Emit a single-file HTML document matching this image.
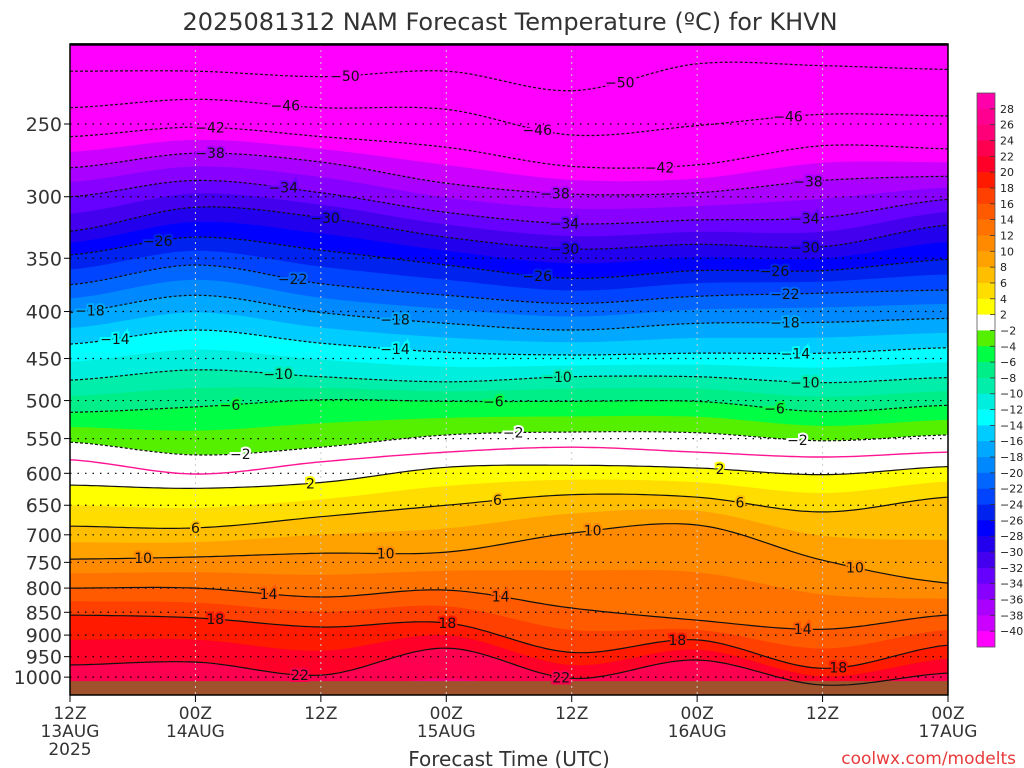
<!DOCTYPE html>
<html><head><meta charset="utf-8"><title>NAM Forecast Temperature KHVN</title>
<style>
html,body{margin:0;padding:0;background:#fff;}
svg{display:block;font-family:"DejaVu Sans","Liberation Sans",sans-serif;}
</style></head>
<body>
<svg id="chart" width="1024" height="768" viewBox="0 0 1024 768" xmlns="http://www.w3.org/2000/svg">
<defs><clipPath id="plotclip"><rect x="70" y="44" width="878" height="651"/></clipPath></defs>
<text x="510" y="30" text-anchor="middle" font-size="24" fill="#333">2025081312 NAM Forecast Temperature (ºC) for KHVN</text>
<g id="fills" clip-path="url(#plotclip)"></g>
<g id="grid"></g>
<g id="lines" clip-path="url(#plotclip)"></g>
<g id="labels"></g>
<g id="axes"></g>
<g id="cbar"></g>
<text x="509" y="766" text-anchor="middle" font-size="20" fill="#333">Forecast Time (UTC)</text>
<text x="1016" y="764" text-anchor="end" font-size="17" fill="#e83a3a">coolwx.com/modelts</text>
</svg>
<script>
// forecast hours of each sampled column
const hours = [0, 12, 24, 36, 48, 60, 72, 84];
// isotherm pressure (hPa) at each forecast hour
const p_m54 = [202, 204, 205, 204, 208, 200, 197, 197];
const p_m50 = [219, 219, 222, 219, 230, 215, 216, 218];
const p_m46 = [240, 235, 240, 241, 257, 251, 244, 245];
const p_m42 = [258, 252, 258, 265, 278, 277, 264, 266];
const p_m38 = [279, 269, 275, 290, 298, 297, 288, 285];
const p_m34 = [300, 288, 297, 312, 321, 318, 316, 302];
const p_m30 = [327, 308, 316, 332, 342, 338, 340, 322];
const p_m26 = [347, 332, 343, 356, 368, 361, 361, 351];
const p_m22 = [374, 356, 373, 384, 392, 385, 382, 379];
const p_m18 = [401, 384, 401, 412, 419, 412, 411, 407];
const p_m14 = [434, 419, 433, 443, 446, 444, 444, 438];
const p_m10 = [475, 463, 471, 477, 471, 471, 478, 472];
const p_m6  = [515, 508, 499, 501, 501, 501, 514, 506];
const p_m2  = [555, 573, 562, 545, 541, 542, 553, 545];
const p_0   = [580, 601, 583, 569, 562, 569, 576, 569];
const p_2   = [618, 623, 614, 591, 588, 592, 602, 590];
const p_6   = [685, 688, 669, 650, 633, 637, 661, 637];
const p_10  = [744, 740, 733, 731, 697, 683, 746, 790];
const p_14  = [800, 800, 818, 804, 841, 867, 887, 856];
const p_18  = [856, 862, 882, 873, 940, 911, 978, 923];
const p_22  = [970, 963, 995, 930, 1003, 958, 1020, 990];
const p_26  = [1085, 1085, 1085, 1085, 1085, 1085, 1085, 1085];
const isoTemps = [-54, -50, -46, -42, -38, -34, -30, -26, -22, -18, -14, -10, -6, -2, 0, 2, 6, 10, 14, 18, 22, 26];
const isoPress = [p_m54, p_m50, p_m46, p_m42, p_m38, p_m34, p_m30, p_m26, p_m22, p_m18, p_m14, p_m10, p_m6, p_m2, p_0, p_2, p_6, p_10, p_14, p_18, p_22, p_26];
const pressureTicks = [250, 300, 350, 400, 450, 500, 550, 600, 650, 700, 750, 800, 850, 900, 950, 1000];
const timeTicks = [0, 12, 24, 36, 48, 60, 72, 84];
const timeLab1 = ["12Z", "00Z", "12Z", "00Z", "12Z", "00Z", "12Z", "00Z"];
const timeLab2 = ["13AUG", "14AUG", "", "15AUG", "", "16AUG", "", "17AUG"];
const surfaceP = 1010;
const cbarLabels = [28, 26, 24, 22, 20, 18, 16, 14, 12, 10, 8, 6, 4, 2, -2, -4, -6, -8, -10, -12, -14, -16, -18, -20, -22, -24, -26, -28, -30, -32, -34, -36, -38, -40];

const NS = "http://www.w3.org/2000/svg";
const X0 = 70, X1 = 948;
function xS(h) { return X0 + h * (X1 - X0) / 84; }
function yS(p) { return 124 + 399 * Math.log(p / 250); }

const colorMap = {28:'#ff00aa',26:'#ff0090',24:'#ff0078',22:'#ff0050',20:'#ff0028',18:'#ff1a00',16:'#ff4000',14:'#ff5a00',12:'#ff7200',10:'#ff8a00',8:'#ffa200',6:'#ffbf00',4:'#ffdd00',2:'#ffff00',0:'#ffffff',
 '-2':'#ffffff','-4':'#55f000','-6':'#00ff44','-8':'#00ee88','-10':'#00eeaa','-12':'#00eedd','-14':'#00ffff','-16':'#00ccff','-18':'#00a8ff','-20':'#0088ff','-22':'#0066ff','-24':'#0044ff','-26':'#0022ee','-28':'#0000ff','-30':'#2200ee','-32':'#4400ee','-34':'#6600ff','-36':'#8800ff','-38':'#aa00ff','-40':'#cc00ff'};
function colorFor(t) { if (t < -40) return '#ff00ff'; if (t >= 28) return '#ff00aa'; return colorMap[t]; }

// Catmull-Rom interpolation of log-pressure in time
function isoLogP(i, h) {
  const arr = isoPress[i].map(Math.log);
  const n = hours.length;
  let k = 0;
  while (k < n - 2 && h > hours[k + 1]) k++;
  const f = (h - hours[k]) / (hours[k + 1] - hours[k]);
  const p0 = arr[Math.max(k - 1, 0)], p1 = arr[k], p2 = arr[k + 1], p3 = arr[Math.min(k + 2, n - 1)];
  const m1 = (p2 - p0) / 2, m2 = (p3 - p1) / 2;
  const f2 = f * f, f3 = f2 * f;
  return (2*f3 - 3*f2 + 1) * p1 + (f3 - 2*f2 + f) * m1 + (-2*f3 + 3*f2) * p2 + (f3 - f2) * m2;
}
function yOfT(T, h) {
  let i = 0;
  while (i < isoTemps.length - 2 && T > isoTemps[i + 1]) i++;
  const f = (T - isoTemps[i]) / (isoTemps[i + 1] - isoTemps[i]);
  const lp = isoLogP(i, h) * (1 - f) + isoLogP(i + 1, h) * f;
  return yS(Math.exp(lp));
}
function mk(tag, attrs, parent) {
  const e = document.createElementNS(NS, tag);
  for (const k in attrs) e.setAttribute(k, attrs[k]);
  parent.appendChild(e); return e;
}
const sampH = []; for (let h = 0; h <= 84.0001; h += 0.5) sampH.push(h);

// fills
const gF = document.getElementById('fills');
const bg = mk('rect', {x: 70, y: 44, width: 878, height: 651, fill: '#ff00ff'}, gF);


for (let T = -54; T <= 26; T += 2) {
  const top = sampH.map(h => [xS(h), yOfT(T, h)]);
  const bot = T + 2 <= 26 ? sampH.map(h => [xS(h), yOfT(T + 2, h)]) : sampH.map(h => [xS(h), 700]);
  const pts = top.concat(bot.reverse()).map(p => p[0].toFixed(1) + ',' + p[1].toFixed(1)).join(' ');
  const c = T >= 26 ? colorFor(26) : colorFor(T);
  const poly = mk('polygon', {points: pts, fill: c, stroke: c, 'stroke-width': 0.6}, gF);
  
  
}
const ground = mk('rect', {x: 70, y: yS(surfaceP), width: 878, height: 700 - yS(surfaceP), fill: '#a0522d'}, gF);



// grid
const gG = document.getElementById('grid');
pressureTicks.forEach(p => {
  const l = mk('line', {x1: 70, x2: 948, y1: yS(p), y2: yS(p), stroke: '#000', 'stroke-width': 1.2, 'stroke-dasharray': '1.5,6'}, gG);
  
  
});
timeTicks.slice(1, -1).forEach(h => {
  const l = mk('line', {x1: xS(h), x2: xS(h), y1: 44, y2: 695, stroke: '#ccc', 'stroke-width': 1, 'stroke-dasharray': '2,4'}, gG);
  
  
});

// contour lines
const gL = document.getElementById('lines');
isoTemps.forEach((T, i) => {
  if (T === -54 || T === 26) return;
  const d = sampH.map((h, j) => (j ? 'L' : 'M') + xS(h).toFixed(1) + ',' + yOfT(T, h).toFixed(1)).join('');
  const attrs = {d: d, fill: 'none', stroke: T === 0 ? '#ff1493' : '#111', 'stroke-width': T === 0 ? 1.4 : 1.2};
  if (T < 0) attrs['stroke-dasharray'] = '3,2';
  const path = mk('path', attrs, gL);
  
  
});

// contour labels (hour positions)
const labelSpots = {'-50':[26.3,52.6],'-46':[20.6,44.7,68.7],'-42':[13.4,56.4],'-38':[13.4,46.4,70.6],'-34':[20.4,47.3,70.3],'-30':[24.4,47.3,70.3],'-26':[8.4,44.7,67.4],'-22':[21.3,68.4],'-18':[1.9,31.1,68.4],'-14':[4.3,31.1,69.4],'-10':[19.9,46.6,70.3],'-6':[15.3,40.5,67.4],'-2':[16.3,42.4,69.6],'2':[23,62.2],'6':[12,40.9,64.1],'10':[7,30.2,50,75.1],'14':[19,41.2,70.1],'18':[13.9,36.1,58.1,73.5],'22':[22,47]};
const gT = document.getElementById('labels');
for (const k in labelSpots) {
  const T = +k;
  labelSpots[k].forEach(h => {
    const y = yOfT(T, h);
    const t = mk('text', {x: xS(h), y: y + 5, 'text-anchor': 'middle', 'font-size': 14, fill: '#111',
      stroke: colorFor(T), 'stroke-width': 4, 'paint-order': 'stroke'}, gT);
    t.textContent = T < 0 ? '\u2212' + (-T) : String(T);
    
    
  });
}

// axes
const gA = document.getElementById('axes');
const frame = mk('rect', {x: 70, y: 44, width: 878, height: 651, fill: 'none', stroke: '#000', 'stroke-width': 1.5}, gA);


const topBar = mk('line', {x1: 70, x2: 948, y1: 44.5, y2: 44.5, stroke: '#000', 'stroke-width': 2.5}, gA);


pressureTicks.forEach(p => {
  const t = mk('text', {x: 62, y: yS(p) + 7, 'text-anchor': 'end', 'font-size': 19, fill: '#333'}, gA);
  t.textContent = p;
  
  
  const tk = mk('line', {x1: 64, x2: 70, y1: yS(p), y2: yS(p), stroke: '#000'}, gA);
  
  
});
timeTicks.forEach((h, i) => {
  const tk = mk('line', {x1: xS(h), x2: xS(h), y1: 695, y2: 702, stroke: '#000'}, gA);
  
  
  const t1 = mk('text', {x: xS(h), y: 719, 'text-anchor': 'middle', 'font-size': 17, fill: '#333'}, gA);
  t1.textContent = timeLab1[i];
  
  
  if (timeLab2[i]) {
    const t2 = mk('text', {x: xS(h), y: 737, 'text-anchor': 'middle', 'font-size': 17, fill: '#333'}, gA);
    t2.textContent = timeLab2[i];
    
    
  }
});
const yr = mk('text', {x: 70, y: 755, 'text-anchor': 'middle', 'font-size': 17, fill: '#333'}, gA);
yr.textContent = '2025';



// colorbar
const gC = document.getElementById('cbar');
const cbTop = 93, cbBot = 647, nBox = 35, bh = (cbBot - cbTop) / nBox;
const boxLows = [28, 26, 24, 22, 20, 18, 16, 14, 12, 10, 8, 6, 4, 2, -2, -4, -6, -8, -10, -12, -14, -16, -18, -20, -22, -24, -26, -28, -30, -32, -34, -36, -38, -40, -42];
boxLows.forEach((t, i) => {
  const r = mk('rect', {x: 977, y: cbTop + i * bh, width: 18, height: bh + 0.3, fill: colorFor(t)}, gC);
  
  
});
const cbF = mk('rect', {x: 977, y: cbTop, width: 18, height: cbBot - cbTop, fill: 'none', stroke: '#555', 'stroke-width': 0.8}, gC);


cbarLabels.forEach((v, i) => {
  const y = cbTop + (i + 1) * bh;
  const tk = mk('line', {x1: 990, x2: 995, y1: y, y2: y, stroke: '#333', 'stroke-width': 0.8}, gC);
  
  
  const t = mk('text', {x: 1000, y: y + 4, 'font-size': 11, fill: '#222'}, gC);
  t.textContent = v < 0 ? '\u2212' + (-v) : String(v);
  
  
});
</script>
</body></html>
